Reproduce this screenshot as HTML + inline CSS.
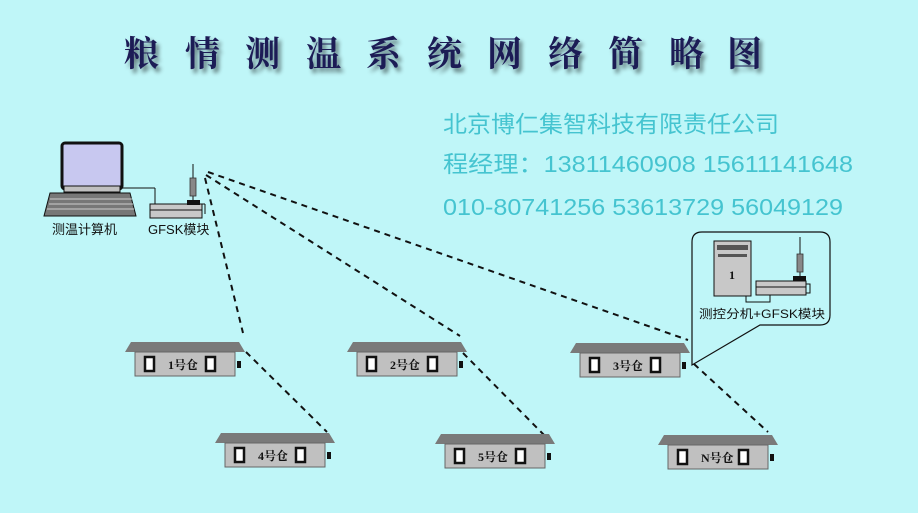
<!DOCTYPE html>
<html><head><meta charset="utf-8"><style>
body{margin:0;background:#bff6f8;}
svg{display:block}
</style></head><body>
<svg width="918" height="513" viewBox="0 0 918 513" xmlns="http://www.w3.org/2000/svg">
<rect width="918" height="513" fill="#bff6f8"/>
<defs>
<filter id="sh" x="-20%" y="-20%" width="150%" height="150%"><feGaussianBlur in="SourceAlpha" stdDeviation="2"/><feOffset dx="3" dy="4"/><feComponentTransfer><feFuncA type="linear" slope="0.5"/></feComponentTransfer><feMerge><feMergeNode/><feMergeNode in="SourceGraphic"/></feMerge></filter>
<g id="house">
<polygon points="0,10 6,0 114,0 120,10" fill="#7a7a7a"/>
<rect x="10" y="10" width="100" height="24" fill="#c0c0c0" stroke="#666" stroke-width="1"/>
<rect x="20" y="15" width="9" height="14" fill="#fff" stroke="#111" stroke-width="2.5"/>
<rect x="81" y="15" width="9" height="14" fill="#fff" stroke="#111" stroke-width="2.5"/>
<rect x="112" y="19" width="4" height="7" fill="#111"/>
</g>
</defs>
<g font-family="'Liberation Serif','Noto Serif CJK SC',serif" font-size="35" font-weight="bold" fill="#1e1a55" filter="url(#sh)">
<text x="124" y="66">粮</text><text x="185" y="66">情</text><text x="245" y="66">测</text><text x="306" y="66">温</text><text x="366" y="66">系</text><text x="427" y="66">统</text><text x="487" y="66">网</text><text x="548" y="66">络</text><text x="608" y="66">简</text><text x="669" y="66">略</text><text x="727" y="66">图</text>
</g>
<g font-family="'Liberation Sans','Noto Sans CJK SC',sans-serif" font-size="23" fill="#45c4d0">
<text x="443" y="132" textLength="336" lengthAdjust="spacingAndGlyphs">北京博仁集智科技有限责任公司</text>
<text x="443" y="172" textLength="410" lengthAdjust="spacingAndGlyphs">程经理：13811460908 15611141648</text>
<text x="443" y="215" textLength="400" lengthAdjust="spacingAndGlyphs">010-80741256 53613729 56049129</text>
</g>
<!-- computer -->
<rect x="62" y="143" width="60" height="46" rx="3" fill="#c8c8f0" stroke="#111" stroke-width="3"/>
<rect x="64" y="186" width="56" height="6" fill="#c0c0c0" stroke="#111"/>
<polygon points="50,193 130,193 136,216 44,216" fill="#777" stroke="#111"/>
<g stroke="#ccc" stroke-width="1">
<line x1="50" y1="199" x2="132" y2="199"/><line x1="49" y1="204" x2="133" y2="204"/><line x1="47" y1="209" x2="134" y2="209"/>
</g>
<line x1="120" y1="188" x2="155" y2="188" stroke="#111"/>
<line x1="155" y1="188" x2="155" y2="205" stroke="#111"/>
<rect x="150" y="204" width="52" height="14" fill="#c8c8c8" stroke="#111"/>
<line x1="150" y1="210" x2="202" y2="210" stroke="#111"/>
<rect x="187" y="200" width="13" height="5" fill="#111"/>
<line x1="193" y1="164" x2="193" y2="200" stroke="#111"/>
<rect x="190" y="178" width="6" height="18" fill="#888" stroke="#333" stroke-width="0.8"/>
<line x1="202" y1="204" x2="205" y2="204" stroke="#111"/><line x1="205" y1="204" x2="205" y2="214" stroke="#111"/>
<g font-family="'Liberation Sans','Noto Sans CJK SC',sans-serif" font-size="13" fill="#111">
<text x="52" y="234">测温计算机</text>
<text x="148" y="234">GFSK模块</text>
</g>
<!-- dashed links -->
<g stroke="#111" stroke-width="2" stroke-dasharray="6,5" fill="none">
<line x1="205" y1="178" x2="243" y2="333"/>
<line x1="206" y1="175" x2="460" y2="336"/>
<line x1="208" y1="172" x2="688" y2="340"/>
<line x1="246" y1="352" x2="327" y2="432"/>
<line x1="463" y1="353" x2="546" y2="437"/>
<line x1="694" y1="364" x2="768" y2="432"/>
</g>
<!-- houses -->
<use href="#house" x="125" y="342"/>
<use href="#house" x="347" y="342"/>
<use href="#house" x="570" y="343"/>
<use href="#house" x="215" y="433"/>
<use href="#house" x="435" y="434"/>
<use href="#house" x="658" y="435"/>
<g font-family="'Liberation Serif','Noto Serif CJK SC',serif" font-size="12" font-weight="bold" fill="#111">
<text x="168" y="369">1号仓</text>
<text x="390" y="369">2号仓</text>
<text x="613" y="370">3号仓</text>
<text x="258" y="460">4号仓</text>
<text x="478" y="461">5号仓</text>
<text x="701" y="462">N号仓</text>
</g>
<!-- callout -->
<path d="M702,232 H820 Q830,232 830,242 V315 Q830,325 820,325 H760 L692,365 V242 Q692,232 702,232 Z" fill="#bff6f8" stroke="#111" stroke-width="1.2"/>
<rect x="714" y="241" width="37" height="55" fill="#c8c8c8" stroke="#111"/>
<rect x="717" y="245" width="31" height="5" fill="#555"/>
<rect x="718" y="254" width="29" height="3" fill="#555"/>
<text x="729" y="279" font-family="'Liberation Serif',serif" font-weight="bold" font-size="12" fill="#111">1</text>
<rect x="756" y="281" width="50" height="14" fill="#c8c8c8" stroke="#111"/>
<line x1="756" y1="287" x2="806" y2="287" stroke="#111"/>
<rect x="793" y="276" width="13" height="5" fill="#111"/>
<line x1="800" y1="237" x2="800" y2="276" stroke="#111"/>
<rect x="797" y="254" width="6" height="18" fill="#888" stroke="#333" stroke-width="0.8"/>
<path d="M806,284 H810 V293 H806 M746,296 V302 H770 V295" fill="none" stroke="#111"/>
<text x="699" y="318" font-family="'Liberation Sans','Noto Sans CJK SC',sans-serif" font-size="12" fill="#111" textLength="126" lengthAdjust="spacingAndGlyphs">测控分机+GFSK模块</text>
</svg>
</body></html>
